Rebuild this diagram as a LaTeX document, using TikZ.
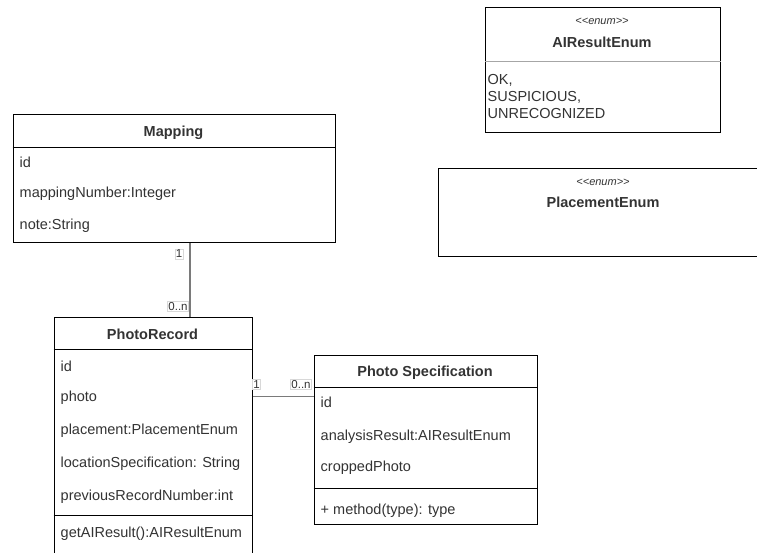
\documentclass[tikz,border=0pt]{standalone}
\usepackage{fontspec}
\setmainfont{Liberation Sans}
\definecolor{txt}{HTML}{333333}
\definecolor{conn}{HTML}{7A7A7A}
\definecolor{lblbox}{HTML}{D8D8D8}
\begin{document}
\begin{tikzpicture}[x=1pt,y=-1pt,
  classbox/.style={draw=black,line width=1.1pt,anchor=north west,inner sep=0pt,fill=white},
  divider/.style={draw=black,line width=1pt},
  lightdivider/.style={draw=gray!70,line width=1pt},
  title/.style={font=\bfseries\fontsize{14.5}{17}\selectfont,text=txt,inner sep=0pt,text height=11pt,text depth=3pt},
  stereo/.style={font=\itshape\fontsize{11}{13}\selectfont,text=txt,inner sep=0pt},
  attr/.style={font=\fontsize{14.5}{17}\selectfont,text=txt,anchor=west,inner sep=0pt,text height=11pt,text depth=3pt},
  assoc/.style={draw=conn,line width=1.8pt},
  mult/.style={font=\fontsize{11.5}{13}\selectfont,text=txt,draw=lblbox,line width=0.5pt,inner sep=1pt,fill=white}
]
\useasboundingbox (0,0) rectangle (757,552);
\clip (0,0) rectangle (757,552);

% ---------- AIResultEnum ----------
\node[classbox,minimum width=235,minimum height=125] (aienum) at (485,7) {};
\draw[lightdivider] (aienum.west |- 0,61) -- (aienum.east |- 0,61);
\node[stereo] (aistereo) at (602,21) {<{}<enum>{}>};
\node[title] (aititle) at (602,43) {AIResultEnum};
\node[attr] (aiok) at (487.5,80) {OK,};
\node[attr] (aisus) at (487.5,97) {SUSPICIOUS,};
\node[attr] (aiunr) at (487.5,114) {UNRECOGNIZED};

% ---------- PlacementEnum ----------
\node[classbox,minimum width=330,minimum height=88] (plenum) at (438,168) {};
\node[stereo] (plstereo) at (603,182) {<{}<enum>{}>};
\node[title] (pltitle) at (603,203) {PlacementEnum};

% ---------- Mapping ----------
\node[classbox,minimum width=322,minimum height=128] (mapping) at (12.5,114) {};
\draw[divider] (mapping.west |- 0,147) -- (mapping.east |- 0,147);
\node[title] (maptitle) at (173.5,132) {Mapping};
\node[attr] (mapid) at (19.5,163) {id};
\node[attr] (mapnum) at (19.5,193) {mappingNumber:Integer};
\node[attr] (mapnote) at (19.5,225) {note:String};

% ---------- PhotoRecord ----------
\node[classbox,minimum width=198,minimum height=250] (record) at (53.5,317) {};
\draw[divider] (record.west |- 0,349) -- (record.east |- 0,349);
\draw[divider] (record.west |- 0,515) -- (record.east |- 0,515);
\node[title] (rectitle) at (152.5,335) {PhotoRecord};
\node[attr] (recid) at (60.5,367) {id};
\node[attr] (recphoto) at (60.5,397) {photo};
\node[attr] (recplace) at (60.5,430) {placement:PlacementEnum};
\node[attr] (recloc) at (60.5,463) {locationSpecification: String};
\node[attr] (recprev) at (60.5,496) {previousRecordNumber:int};
\node[attr] (recget) at (60.5,533) {getAIResult():AIResultEnum};

% ---------- PhotoSpecification ----------
\node[classbox,minimum width=223,minimum height=169] (spec) at (313.5,355) {};
\draw[divider] (spec.west |- 0,387) -- (spec.east |- 0,387);
\draw[divider] (spec.west |- 0,488) -- (spec.east |- 0,488);
\node[title] (spectitle) at (425,372) {Photo Specification};
\node[attr] (specid) at (320.5,403) {id};
\node[attr] (specres) at (320.5,436) {analysisResult:AIResultEnum};
\node[attr] (speccrop) at (320.5,467) {croppedPhoto};
\node[attr] (specmeth) at (320.5,510) {+ method(type): type};

% ---------- connectors ----------
\draw[assoc] (190,0 |- mapping.south) -- (190,0 |- record.north);
\node[mult] (m1) at (179,254) {1};
\node[mult] (m2) at (178,306.5) {0..n};

\draw[assoc] (record.east |- 0,396.5) -- (spec.west |- 0,396.5);
\node[mult] (m3) at (256.5,384.5) {1};
\node[mult] (m4) at (301,384.5) {0..n};
\end{tikzpicture}
\end{document}
